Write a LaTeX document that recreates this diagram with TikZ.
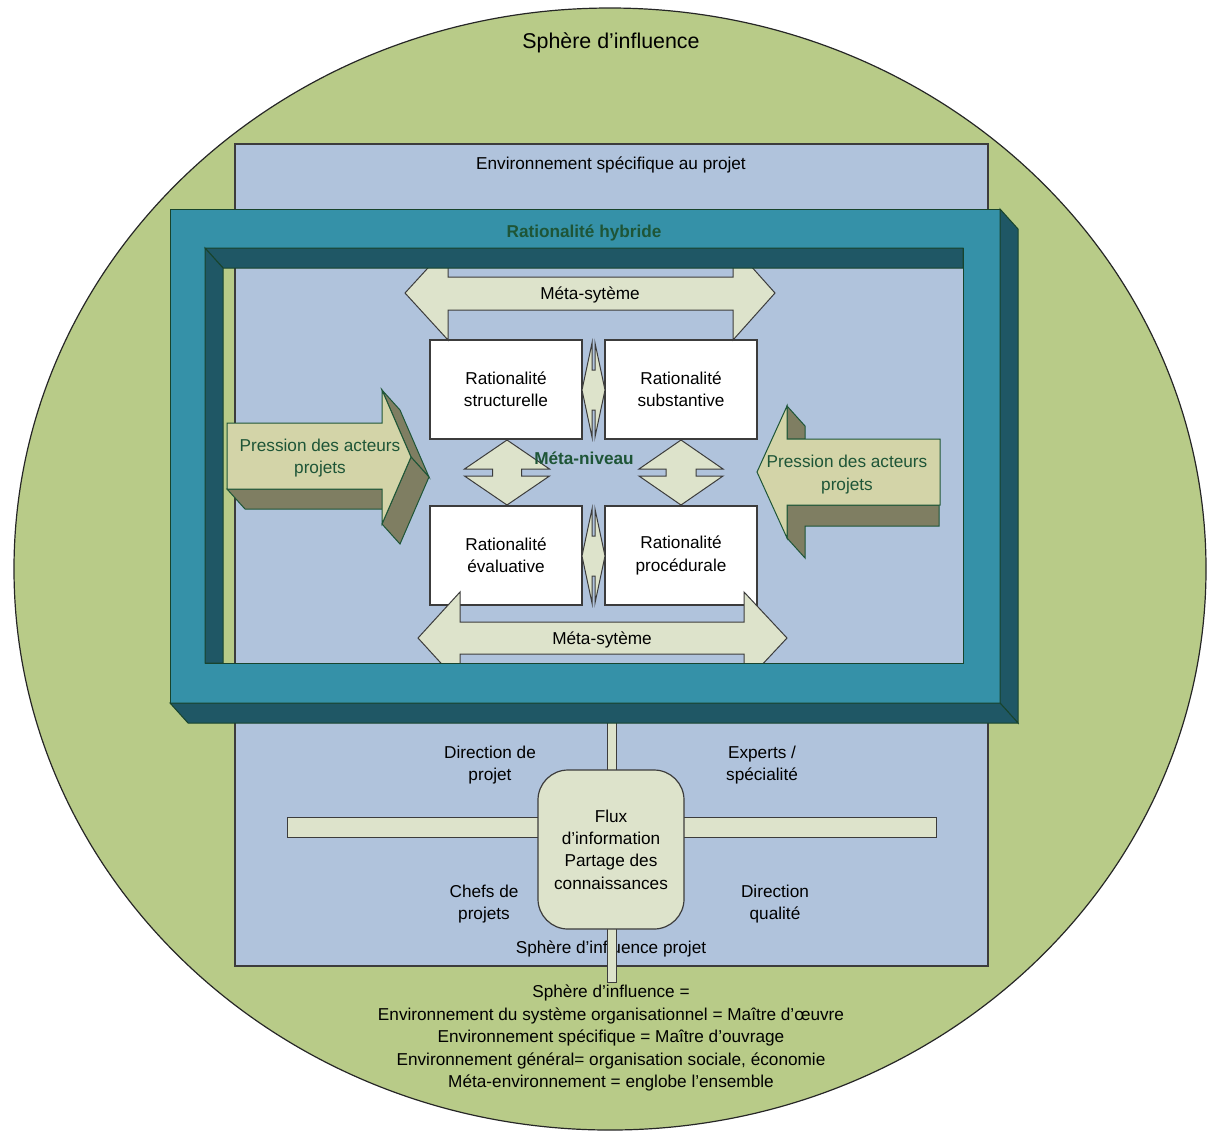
\documentclass[tikz,border=0pt]{standalone}
\usepackage{fontspec}
\setmainfont{Liberation Sans}
\usepackage{tikz}
\usepackage{xcolor}

\definecolor{spheregreen}{RGB}{184,203,136}
\definecolor{envblue}{RGB}{176,195,220}
\definecolor{tealfront}{RGB}{53,145,168}
\definecolor{tealside}{RGB}{31,87,101}
\definecolor{cream}{RGB}{221,227,203}
\definecolor{khaki}{RGB}{211,212,168}
\definecolor{khakiside}{RGB}{127,126,98}
\definecolor{darkgreen}{RGB}{30,85,55}
\definecolor{edgegrey}{RGB}{60,60,60}

\tikzset{
  lbl/.style={align=center, inner sep=0pt, yshift=-1pt},
  rbox/.style={draw=edgegrey, fill=white, line width=0.6pt, minimum width=76pt,
    minimum height=49.5pt, inner sep=0pt, align=center},
  flat/.style={draw=edgegrey, fill=cream, line width=0.5pt},
  push/.style={draw=darkgreen, fill=khaki, line width=0.5pt},
  pushside/.style={draw=darkgreen, fill=khakiside, line width=0.5pt},
  frontface/.style={draw=darkgreen!80!black, fill=tealfront, line width=0.5pt},
  sideface/.style={draw=darkgreen!80!black, fill=tealside, line width=0.5pt},
  flux/.style={draw=edgegrey, fill=cream, line width=0.6pt, rounded corners=15pt,
    minimum width=73pt, minimum height=79.5pt, inner sep=0pt, align=center}
}

\begin{document}
\begin{tikzpicture}[x=0.5pt, y=-0.5pt, font=\fontsize{8.6}{11.2}\selectfont]
\useasboundingbox (0,0) rectangle (1208,1131);

% Sphere of influence
\draw[fill=spheregreen, draw=black!85, line width=0.6pt] (610,569) ellipse [x radius=596, y radius=561];
\node[lbl] (sphere) at (611,41) {\fontsize{10.7}{13}\selectfont Sphère d’influence};

% Specific environment
\draw[fill=envblue, draw=edgegrey, line width=0.6pt] (235,144) rectangle (988,966);
\node[lbl] (envspec) at (611,163) {Environnement spécifique au projet};

% Project sphere
\node[lbl] (dirproj) at (490,763) {Direction de\\projet};
\node[lbl] (experts) at (762,763) {Experts /\\spécialité};
\node[lbl] (chefs) at (484,902) {Chefs de\\projets};
\node[lbl] (dirqual) at (775,902) {Direction\\qualité};
\node[lbl] (sphproj) at (611,947) {Sphère d’influence projet};
\draw[flat] (287,817) rectangle (936,837);
\draw[flat] (607,700) rectangle (616,982);
\node[flux] (flux) at (611,849.5) {Flux\\d’information\\Partage des\\connaissances};

% Legend
\node[lbl, font=\fontsize{8.6}{11.25}\selectfont] (legend) at (611,1036)
  {Sphère d’influence =\\Environnement du système organisationnel = Maître d’œuvre\\
   Environnement spécifique = Maître d’ouvrage\\Environnement général= organisation sociale, économie\\
   Méta-environnement = englobe l’ensemble};

% Rationality boxes
\node[rbox] (struct) at (506,389.5) {Rationalité\\structurelle};
\node[rbox] (subst) at (681,389.5) {Rationalité\\substantive};
\node[rbox] (eval) at (506,555.5) {Rationalité\\évaluative};
\node[rbox] (proc) at (681,555.5) {Rationalité\\procédurale};

% Meta-system arrows
\draw[flat] (405,293) -- (448,246) -- (448,277) -- (733,277) -- (733,246) -- (775,293)
  -- (733,340) -- (733,310) -- (448,310) -- (448,340) -- cycle;
\node[lbl] (metatop) at (590,293) {Méta-sytème};
\draw[flat] (418,638) -- (460,592) -- (460,622) -- (744,622) -- (744,592) -- (787,638)
  -- (744,684) -- (744,654) -- (460,654) -- (460,684) -- cycle;
\node[lbl] (metabot) at (602,638) {Méta-sytème};

% Links between boxes
\draw[flat] (582,390) -- (592,343) -- (592,370) -- (595,370) -- (595,343) -- (605,390)
  -- (595,437) -- (595,410) -- (592,410) -- (592,437) -- cycle;
\draw[flat] (582,556) -- (592,509) -- (592,536) -- (595,536) -- (595,509) -- (605,556)
  -- (595,603) -- (595,576) -- (592,576) -- (592,603) -- cycle;
\draw[flat] (507,440) -- (549.5,469) -- (521.5,469) -- (521.5,476) -- (549.5,476) -- (507,505)
  -- (464.5,476) -- (492.5,476) -- (492.5,469) -- (464.5,469) -- cycle;
\draw[flat] (681,440) -- (723,469) -- (696,469) -- (696,476) -- (723,476) -- (681,505)
  -- (639,476) -- (666,476) -- (666,469) -- (639,469) -- cycle;
\node[lbl, text=darkgreen, font=\fontsize{8.6}{11.2}\selectfont\bfseries] (metaniv) at (584,456) {Méta-niveau};

% Pressure arrows
\draw[pushside] (227,489) -- (382,489) -- (400,509) -- (245,509) -- cycle;
\draw[pushside] (382,390) -- (400,410) -- (429,477) -- (411,457) -- cycle;
\draw[pushside] (411,457) -- (429,477) -- (400,544) -- (382,524) -- cycle;
\draw[push] (227,423) -- (382,423) -- (382,390) -- (411,457) -- (382,524) -- (382,489) -- (227,489) -- cycle;
\node[lbl, text=darkgreen] (pressleft) at (320,456) {Pression des acteurs\\projets};

\draw[pushside] (787,406) -- (805,426) -- (805,439) -- (787,439) -- cycle;
\draw[pushside] (787,505) -- (939,505) -- (939,526) -- (805,526) -- (805,558) -- (787,538) -- cycle;
\draw[push] (757,472) -- (787,406) -- (787,439) -- (940,439) -- (940,505) -- (787,505) -- (787,538) -- cycle;
\node[lbl, text=darkgreen] (pressright) at (847,472.5) {Pression des acteurs\\projets};

% Hybrid rationality frame
\draw[frontface, even odd rule] (170,209) rectangle (1000,703) (205,248) rectangle (963,663);
\draw[sideface] (1000,209) -- (1018,229) -- (1018,723) -- (1000,703) -- cycle;
\draw[sideface] (170,703) -- (1000,703) -- (1018,723) -- (188,723) -- cycle;
\draw[sideface] (205,248) -- (963,248) -- (963,268) -- (223,268) -- cycle;
\draw[sideface] (205,248) -- (223,268) -- (223,663) -- (205,663) -- cycle;
\node[lbl, text=darkgreen, font=\fontsize{8.6}{11.2}\selectfont\bfseries] (hybride) at (584,231) {Rationalité hybride};
\end{tikzpicture}
\end{document}
